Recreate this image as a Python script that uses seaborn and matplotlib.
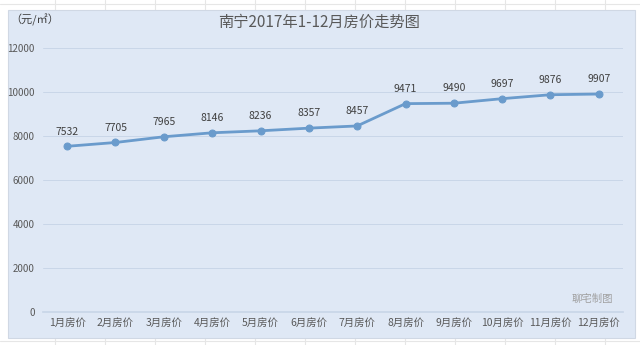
import matplotlib
matplotlib.use("Agg")
import matplotlib.pyplot as plt
import seaborn as sns
import pandas as pd
from matplotlib.patches import Rectangle

sns.set_theme(style="white")
plt.rcParams['font.family'] = ['Noto Sans CJK SC', 'DejaVu Sans']

months = ["1月房价", "2月房价", "3月房价", "4月房价", "5月房价", "6月房价",
          "7月房价", "8月房价", "9月房价", "10月房价", "11月房价", "12月房价"]
prices = [7532, 7705, 7965, 8146, 8236, 8357, 8457, 9471, 9490, 9697, 9876, 9907]
yticks = [0, 2000, 4000, 6000, 8000, 10000, 12000]

df = pd.DataFrame({"month": months, "price": prices})

fig = plt.figure(figsize=(6.4, 3.45), dpi=100)
fig.patch.set_facecolor("white")

# spreadsheet gridlines outside the chart
for xv in range(55, 640, 50):
    fig.add_artist(plt.Line2D([xv / 640, xv / 640], [0, 1], color="#e6e6e6", lw=0.8, zorder=0))
for yv in [4, 341]:
    fig.add_artist(plt.Line2D([0, 1], [1 - yv / 345, 1 - yv / 345], color="#e6e6e6", lw=0.8, zorder=0))

# chart area
fig.add_artist(Rectangle((8 / 640, 1 - 338 / 345), 627 / 640, 328 / 345,
                         transform=fig.transFigure, facecolor="#dfe8f5",
                         edgecolor="#d0d8e4", lw=0.8, zorder=1))

ax = fig.add_axes([43 / 640, 33 / 345, 580 / 640, 264 / 345])
ax.set_zorder(2)
ax.patch.set_alpha(0)

sns.lineplot(data=df, x="month", y="price", ax=ax, color="#6a9bcc", lw=2.0,
             marker="o", markersize=5, markeredgecolor="#6a9bcc", sort=False)

for i, v in enumerate(prices):
    ax.annotate(str(v), (i, v), xytext=(0, 7), textcoords="offset points",
                ha="center", va="bottom", fontsize=7.5, color="#404040")

ax.set_xlim(-0.5, len(months) - 0.5)
ax.set_ylim(0, 12000)
ax.set_yticks(yticks)
ax.set_yticklabels([str(t) for t in yticks], fontsize=7, color="#595959")
ax.tick_params(axis="x", labelsize=7.5, colors="#595959", length=0, pad=4)
ax.tick_params(axis="y", length=0, pad=6)
ax.grid(axis="y", color="#c9d6e8", lw=0.7)
ax.set_axisbelow(True)
for s in ["top", "right", "left"]:
    ax.spines[s].set_visible(False)
ax.spines["bottom"].set_color("#c9d6e8")
ax.set_xlabel("")
ax.set_ylabel("")

fig.text(319 / 640, 1 - 22 / 345, "南宁2017年1-12月房价走势图", ha="center", va="center",
         fontsize=11, color="#595959")
fig.text(10 / 640, 1 - 20 / 345, "（元/㎡）", ha="left", va="center",
         fontsize=8, color="#404040")
fig.text(613 / 640, 1 - 299 / 345, "聊宅制图", ha="right", va="center",
         fontsize=7.5, color="#a0a0a0")

fig.savefig("out.png", dpi=100, facecolor=fig.get_facecolor())
